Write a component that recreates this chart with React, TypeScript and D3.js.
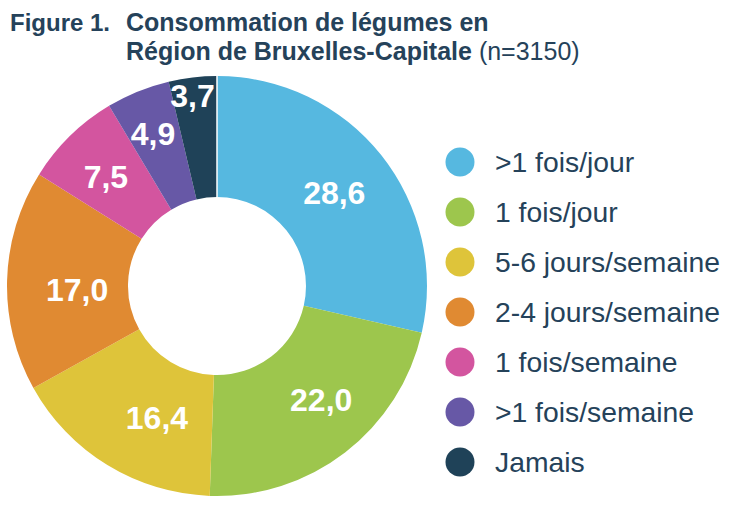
import React from "react";
import * as d3 from "d3";

const CATEGORIES = [
  ">1 fois/jour",
  "1 fois/jour",
  "5-6 jours/semaine",
  "2-4 jours/semaine",
  "1 fois/semaine",
  ">1 fois/semaine",
  "Jamais",
];
const VALUES = [28.6, 22.0, 16.4, 17.0, 7.5, 4.9, 3.7];
const COLORS = ["#56B8E0", "#9DC64D", "#DEC43A", "#E08A32", "#D3559F", "#6758A6", "#1F4258"];

// hand-placed label offsets (degrees from slice middle, radius in px)
const LABEL_SHIFT = [0, -5, -7, -3, -1, -0.7, -0.7];
const LABEL_R = [150, 154, 145, 140, 156, 165, 192];

const W = 730;
const H = 508;
const CX = 217;
const CY = 286;
const R_OUT = 210;
const R_IN = 89;
const TEXT = "#25425A";
const FONT = "'Liberation Sans', Arial, Helvetica, sans-serif";

const fmt = (v: number) => v.toFixed(1).replace(".", ",");

export default function App() {
  const pie = d3.pie<number>().sort(null).value(d => d).startAngle(0).endAngle(2 * Math.PI);
  const arcs = pie(VALUES);
  const arc = d3.arc<d3.PieArcDatum<number>>().innerRadius(R_IN).outerRadius(R_OUT);

  const legendY = d3.scalePoint<string>().domain(CATEGORIES).range([162, 462]);

  const [lx0, ly0] = d3.pointRadial(0, R_IN);
  const [lx1, ly1] = d3.pointRadial(0, R_OUT);

  return (
    <svg
      width={W}
      height={H}
      style={{ position: "absolute", left: 0, top: 0, background: "#fff" }}
      fontFamily={FONT}
    >
      <g fill={TEXT} fontSize={25}>
        <text x={10} y={31} fontWeight="bold" fontSize={24}>Figure 1.</text>
        <text x={126} y={31} fontWeight="bold">Consommation de légumes en</text>
        <text x={126} y={60}>
          <tspan fontWeight="bold">Région de Bruxelles-Capitale</tspan>
          <tspan> (n=3150)</tspan>
        </text>
      </g>

      <g transform={`translate(${CX},${CY})`}>
        {arcs.map((a, i) => (
          <path key={CATEGORIES[i]} d={arc(a) ?? ""} fill={COLORS[i]} />
        ))}
        <line x1={lx0} y1={ly0} x2={lx1} y2={ly1} stroke="#fff" strokeWidth={1.5} />
        {arcs.map((a, i) => {
          const mid = (a.startAngle + a.endAngle) / 2 + (LABEL_SHIFT[i] * Math.PI) / 180;
          const [x, y] = d3.pointRadial(mid, LABEL_R[i]);
          return (
            <text
              key={"l" + i}
              x={x}
              y={y}
              dy="0.36em"
              textAnchor="middle"
              fill="#fff"
              fontWeight="bold"
              fontSize={32}
            >
              {fmt(VALUES[i])}
            </text>
          );
        })}
      </g>

      <g>
        {CATEGORIES.map((c, i) => (
          <g key={c} transform={`translate(0,${legendY(c)})`}>
            <circle cx={460} cy={0} r={14.5} fill={COLORS[i]} />
            <text x={495} y={0} dy="0.36em" fontSize={28.3} fill={TEXT}>
              {c}
            </text>
          </g>
        ))}
      </g>
    </svg>
  );
}
